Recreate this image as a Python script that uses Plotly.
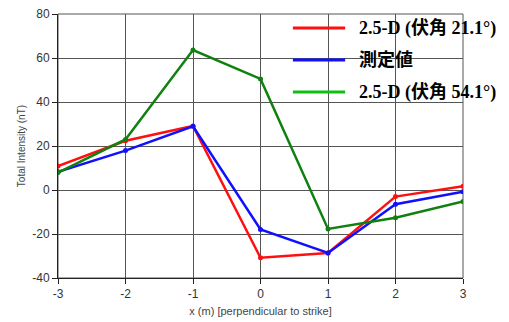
import plotly.graph_objects as go

x_vals = [-3, -2, -1, 0, 1, 2, 3]
red_vals = [10.9, 22.4, 29.1, -30.8, -28.6, -3.0, 1.7]
blue_vals = [8.3, 17.9, 29.0, -17.9, -28.6, -6.5, -0.8]
green_vals = [7.9, 23.0, 63.6, 50.5, -17.7, -12.6, -5.2]
names = ["2.5-D (伏角 21.1°)", "測定値", "2.5-D (伏角 54.1°)"]
line_colors = ["#FF1010", "#1010FF", "#108010"]
legend_colors = ["#FF1010", "#1010FF", "#10C010"]
y_ticks = [-40, -20, 0, 20, 40, 60, 80]
y_ticktext = ["-40", "-20", "0", "20", "40", "60", "80"]
x_ticks = [-3, -2, -1, 0, 1, 2, 3]
x_ticktext = ["-3", "-2", "-1", "0", "1", "2", "3"]

fig = go.Figure()
for vals, c, n in zip([red_vals, blue_vals, green_vals], line_colors, names):
    fig.add_trace(go.Scatter(x=x_vals, y=vals, mode="lines+markers", name=n,
                             line=dict(color=c, width=2.5),
                             marker=dict(color=c, size=5), showlegend=False))

# manual legend
rows = [0.947, 0.826, 0.705]
for ry, c, n in zip(rows, legend_colors, names):
    fig.add_shape(type="line", xref="paper", yref="paper", x0=0.580, x1=0.709,
                  y0=ry, y1=ry, line=dict(color=c, width=3))
    fig.add_annotation(xref="paper", yref="paper", x=0.738, y=ry, text="<b>%s</b>" % n,
                       showarrow=False, xanchor="left", yanchor="middle",
                       font=dict(family="Liberation Serif, Noto Sans CJK JP", size=18, color="black"))

fig.update_layout(
    width=501, height=314,
    margin=dict(l=50, r=46, t=6, b=44, autoexpand=False),
    paper_bgcolor="white", plot_bgcolor="white",
    font=dict(family="Liberation Sans, Arial", color="#333"),
)
fig.update_xaxes(range=[-3, 3], tickvals=x_ticks, ticktext=x_ticktext, showgrid=True, gridcolor="#555", gridwidth=1,
                 showline=True, linecolor="#222", linewidth=1, mirror=False, automargin=False,
                 ticks="outside", ticklen=5, tickcolor="#222", zeroline=False,
                 ticklabeloverflow="allow",
                 tickfont=dict(size=12, color="#333"),
                 title=dict(text="x (m) [perpendicular to strike]", font=dict(size=11, color="#444"), standoff=6))
fig.update_yaxes(range=[-40, 80], tickvals=y_ticks, ticktext=y_ticktext, showgrid=True, gridcolor="#555", gridwidth=1,
                 showline=True, linecolor="#222", linewidth=1, automargin=False,
                 ticks="outside", ticklen=5, tickcolor="#222", zeroline=False,
                 ticklabeloverflow="allow",
                 tickfont=dict(size=12, color="#333"),
                 title=dict(text="Total Intensity (nT)", font=dict(size=10, color="#444"), standoff=4))
fig.add_shape(type="rect", xref="paper", yref="paper", x0=0, x1=1, y0=0, y1=1,
              line=dict(color="#555", width=1), layer="below")

fig.write_html("out.html")
